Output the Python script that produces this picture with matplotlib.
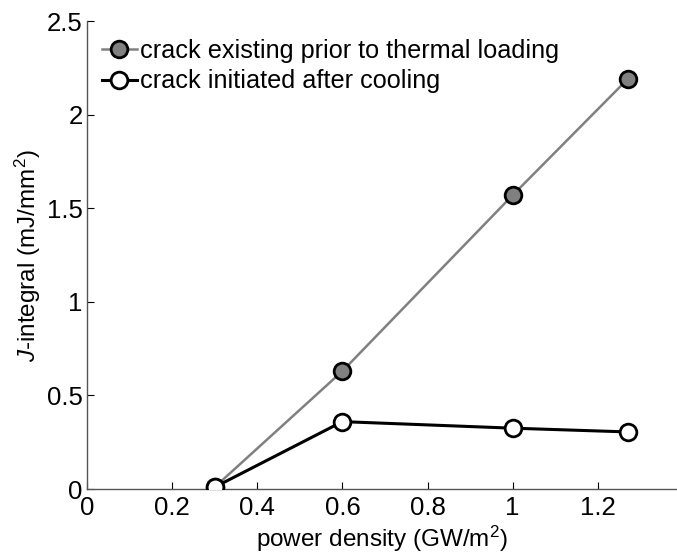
import matplotlib
matplotlib.use("Agg")
import matplotlib.pyplot as plt

plt.rcParams['font.family'] = ['Liberation Sans', 'DejaVu Sans']
plt.rcParams['mathtext.fontset'] = 'custom'
plt.rcParams['mathtext.rm'] = 'Liberation Sans'
plt.rcParams['mathtext.it'] = 'Liberation Sans:italic'

power = [0.3, 0.6, 1.0, 1.27]
existing = [0.01, 0.63, 1.57, 2.19]
initiated = [0.01, 0.36, 0.325, 0.305]
xticks = [0, 0.2, 0.4, 0.6, 0.8, 1.0, 1.2]
xticklabels = ['0', '0.2', '0.4', '0.6', '0.8', '1', '1.2']
yticks = [0, 0.5, 1.0, 1.5, 2.0, 2.5]
yticklabels = ['0', '0.5', '1', '1.5', '2', '2.5']

fig = plt.figure(figsize=(6.77, 5.56), dpi=100)
ax = fig.add_axes([0.1285, 0.1205, 0.8715, 0.8415])

ax.plot(power, existing, '-o', color='#808080', lw=1.8, ms=12,
        mfc='#808080', mec='black', mew=2, label='crack existing prior to thermal loading', zorder=3)
ax.plot(power, initiated, '-o', color='black', lw=2.2, ms=12,
        mfc='white', mec='black', mew=2, label='crack initiated after cooling', zorder=4)

ax.set_xlim(0, 1.386)
ax.set_ylim(0, 2.5)
ax.set_xticks(xticks)
ax.set_xticklabels(xticklabels)
ax.set_yticks(yticks)
ax.set_yticklabels(yticklabels)
ax.tick_params(direction='in', length=5, width=0.8, labelsize=18.5, colors='black')
ax.tick_params(axis='x', pad=5)
ax.tick_params(axis='y', pad=3)
ax.spines['top'].set_visible(False)
ax.spines['right'].set_visible(False)
for s in ('left', 'bottom'):
    ax.spines[s].set_color('#555555')
    ax.spines[s].set_linewidth(1.0)

ax.set_xlabel('power density (GW/m$^2$)', fontsize=17.5, labelpad=3)
ax.set_ylabel('$J$-integral (mJ/mm$^2$)', fontsize=17.5, labelpad=3)

ax.legend(loc='upper left', frameon=False, fontsize=18.2, handlelength=1.4,
          handletextpad=0.1, borderpad=0, borderaxespad=0, labelspacing=0.26,
          bbox_to_anchor=(0.025, 0.962))

fig.savefig('out.png', dpi=100)
